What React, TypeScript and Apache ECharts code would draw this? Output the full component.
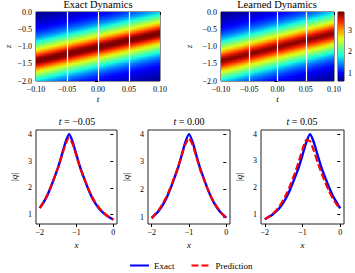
import React, { useEffect, useRef } from "react";
import * as echarts from "echarts";

// ---------------- data ----------------
const snapshotTimes = [-0.05, 0.0, 0.05];
const xGrid = [-2, -1.9, -1.8, -1.7, -1.6, -1.5, -1.4, -1.3, -1.2, -1.1, -1.0, -0.9, -0.8, -0.7, -0.6, -0.5, -0.4, -0.3, -0.2, -0.1, 0];

const exactM005 = [1.25, 1.45, 1.7, 2.02, 2.38, 2.76, 3.22, 3.7, 4.0, 3.7, 3.22, 2.76, 2.38, 2.02, 1.7, 1.45, 1.25, 1.1, 0.98, 0.89, 0.81];
const predM005 = [1.24, 1.45, 1.71, 2.03, 2.39, 2.76, 3.19, 3.62, 3.87, 3.62, 3.17, 2.74, 2.38, 2.03, 1.72, 1.48, 1.28, 1.12, 1.0, 0.9, 0.82];
const exact000 = [0.98, 1.1, 1.25, 1.45, 1.7, 2.02, 2.38, 2.76, 3.22, 3.7, 4.0, 3.7, 3.22, 2.76, 2.38, 2.02, 1.7, 1.45, 1.25, 1.1, 0.98];
const pred000 = [0.95, 1.12, 1.28, 1.5, 1.75, 2.06, 2.42, 2.79, 3.22, 3.62, 3.85, 3.6, 3.16, 2.72, 2.36, 2.02, 1.72, 1.47, 1.27, 1.1, 0.96];
const exactP005 = [0.81, 0.89, 0.98, 1.1, 1.25, 1.45, 1.7, 2.02, 2.38, 2.76, 3.22, 3.7, 4.0, 3.7, 3.22, 2.76, 2.38, 2.02, 1.7, 1.45, 1.22];
const predP005 = [0.8, 0.9, 1.0, 1.14, 1.32, 1.55, 1.83, 2.17, 2.55, 2.97, 3.42, 3.78, 3.74, 3.38, 2.95, 2.56, 2.2, 1.88, 1.6, 1.38, 1.2];

// heat map: travelling profile (|q| vs distance from the crest) and crest track
const heatT = [-0.1, -0.05, 0, 0.05, 0.1];
const heatPeakZ = [-1.4, -1.2, -1.0, -0.8, -0.6];
const profileD = [0, 0.1, 0.2, 0.3, 0.4, 0.5, 0.6, 0.7, 0.8, 0.9, 1.0, 1.1, 1.2, 1.3, 1.4];
const profileExact = [4.0, 3.7, 3.22, 2.76, 2.38, 2.02, 1.7, 1.45, 1.25, 1.1, 0.98, 0.89, 0.81, 0.74, 0.68];
const profileLearned = [3.86, 3.62, 3.18, 2.74, 2.38, 2.03, 1.72, 1.47, 1.27, 1.12, 1.0, 0.9, 0.82, 0.75, 0.69];

const colorMin = 0.64;
const colorMax = 3.86;
const jet = ["#000080", "#0000FF", "#0080FF", "#15FFE2", "#7BFF7B", "#E2FF15", "#FF9700", "#FF2100", "#800000"];

// ---------------- helpers ----------------
const MINUS = "\u2212";
const fmt = (v: number, d: number) => {
  const r = Math.abs(v) < 1e-9 ? 0 : v;
  return (r < 0 ? MINUS : "") + Math.abs(r).toFixed(d);
};
const interp = (xs: number[], ys: number[], x: number) => {
  if (x <= xs[0]) return ys[0];
  if (x >= xs[xs.length - 1]) return ys[ys.length - 1];
  for (let i = 1; i < xs.length; i++) {
    if (x <= xs[i]) {
      const f = (x - xs[i - 1]) / (xs[i] - xs[i - 1]);
      return ys[i - 1] + f * (ys[i] - ys[i - 1]);
    }
  }
  return ys[ys.length - 1];
};

const NT = 62;
const NZ = 48;
const dT = 0.2 / NT;
const dZ = 2 / NZ;
function buildHeat(profile: number[]) {
  const out: number[][] = [];
  for (let i = 0; i < NT; i++) {
    const t = -0.1 + (i + 0.5) * dT;
    const c = interp(heatT, heatPeakZ, t);
    for (let j = 0; j < NZ; j++) {
      const z = -2 + (j + 0.5) * dZ;
      out.push([t, z, interp(profileD, profile, Math.abs(z - c))]);
    }
  }
  return out;
}
const NC = 80;
const dC = (colorMax - colorMin) / NC;
const colorbarData: number[][] = [];
for (let i = 0; i < NC; i++) {
  const v = colorMin + (i + 0.5) * dC;
  colorbarData.push([0.5, v, v]);
}

const FONT = "Liberation Serif";
const black = "#000";
const frame = "#222";

const heatRender = (params: any, api: any) => {
  const t = api.value(0);
  const z = api.value(1);
  const p = api.coord([t - dT / 2, z + dZ / 2]);
  const q = api.coord([t + dT / 2, z - dZ / 2]);
  return {
    type: "rect",
    shape: { x: p[0], y: p[1], width: q[0] - p[0] + 0.7, height: q[1] - p[1] + 0.7 },
    style: { fill: api.visual("color") },
  };
};
const cbRender = (params: any, api: any) => {
  const v = api.value(1);
  const p = api.coord([0, v + dC / 2]);
  const q = api.coord([1, v - dC / 2]);
  return {
    type: "rect",
    shape: { x: p[0], y: p[1], width: q[0] - p[0], height: q[1] - p[1] + 0.7 },
    style: { fill: api.visual("color") },
  };
};

const tickLabel = { color: black, fontFamily: FONT, fontSize: 8 };
const italicName = { color: black, fontFamily: FONT, fontSize: 9, fontStyle: "italic" as const };

function heatXAxis(gridIndex: number) {
  return {
    type: "value", gridIndex, min: -0.1, max: 0.1, interval: 0.05,
    name: "t", nameLocation: "middle", nameGap: 13, nameTextStyle: italicName,
    axisLine: { show: false }, splitLine: { show: false },
    axisTick: { show: true, inside: false, length: 3, lineStyle: { color: black } },
    axisLabel: { ...tickLabel, margin: 4, formatter: (v: number) => fmt(v, 2) },
  };
}
function heatYAxis(gridIndex: number, gap: number) {
  return {
    type: "value", gridIndex, min: -2, max: 0, interval: 0.5,
    name: "z", nameLocation: "middle", nameGap: gap, nameRotate: 90, nameTextStyle: italicName,
    axisLine: { show: false }, splitLine: { show: false },
    axisTick: { show: true, inside: false, length: 3, lineStyle: { color: black } },
    axisLabel: { ...tickLabel, margin: 4, formatter: (v: number) => fmt(v, 1) },
  };
}
function lineXAxis(gridIndex: number) {
  return {
    type: "value", gridIndex, min: -2.1, max: 0.1,
    name: "x", nameLocation: "middle", nameGap: 16, nameTextStyle: italicName,
    axisLine: { show: false }, splitLine: { show: false },
    axisTick: { show: true, inside: false, length: 3, customValues: [-2, -1, 0], lineStyle: { color: black } },
    axisLabel: { ...tickLabel, margin: 4, customValues: [-2, -1, 0], formatter: (v: number) => fmt(v, 0) },
  };
}
function lineYAxis(gridIndex: number, min: number, max: number) {
  return {
    type: "value", gridIndex, min, max,
    name: "|{i|q}|", nameLocation: "middle", nameGap: 18, nameRotate: 90,
    nameTextStyle: { color: black, fontFamily: FONT, fontSize: 9, rich: { i: { fontStyle: "italic", fontFamily: FONT, fontSize: 9, color: black } } },
    axisLine: { show: false }, splitLine: { show: false },
    axisTick: { show: true, inside: false, length: 3, customValues: [1, 2, 3, 4], lineStyle: { color: black } },
    axisLabel: { ...tickLabel, margin: 4, customValues: [1, 2, 3, 4], formatter: (v: number) => String(Math.round(v)) },
  };
}
const pairs = (ys: number[]) => xGrid.map((x, i) => [x, ys[i]]);

const subTitle = (t: number, center: number) => ({
  text: "{i|t} = " + fmt(t, 2),
  left: center, top: 116, textAlign: "center", padding: 0,
  textStyle: { color: black, fontFamily: FONT, fontSize: 10, fontWeight: "normal", rich: { i: { fontStyle: "italic", fontFamily: FONT, fontSize: 10, color: black } } },
});

export default function App() {
  const ref = useRef<HTMLDivElement>(null);
  useEffect(() => {
    if (!ref.current) return;
    const chart = echarts.init(ref.current, null, { renderer: "svg" });
    const gridBase = { show: true, borderColor: frame, borderWidth: 1, backgroundColor: "transparent" };
    const lineSeries = (name: string, data: number[], idx: number) => ({
      name, type: "line", xAxisIndex: idx, yAxisIndex: idx, data: pairs(data),
      symbol: "none", showSymbol: false, smooth: 0.2,
      lineStyle: name === "Exact" ? { color: "#0000FF", width: 2.4, type: "solid" } : { color: "#FF0000", width: 2.2, type: [7, 3] },
      itemStyle: { color: name === "Exact" ? "#0000FF" : "#FF0000" },
      z: name === "Exact" ? 2 : 3,
    });
    chart.setOption({
      animation: false,
      backgroundColor: "#fff",
      title: [
        { text: "Exact Dynamics", left: 98, top: -1, padding: 0, textAlign: "center", textStyle: { color: black, fontFamily: FONT, fontSize: 10.5, fontWeight: "normal" } },
        { text: "Learned Dynamics", left: 277, top: -1, padding: 0, textAlign: "center", textStyle: { color: black, fontFamily: FONT, fontSize: 10.5, fontWeight: "normal" } },
        subTitle(snapshotTimes[0], 77),
        subTitle(snapshotTimes[1], 189),
        subTitle(snapshotTimes[2], 302),
      ],
      grid: [
        { ...gridBase, left: 36, top: 12, width: 124, height: 69 },
        { ...gridBase, left: 221, top: 12, width: 113, height: 69 },
        { ...gridBase, left: 338, top: 12, width: 6.5, height: 69 },
        { ...gridBase, left: 36, top: 130, width: 81, height: 94 },
        { ...gridBase, left: 148, top: 130, width: 82, height: 94 },
        { ...gridBase, left: 261, top: 130, width: 83, height: 94 },
      ],
      xAxis: [
        heatXAxis(0),
        heatXAxis(1),
        { type: "value", gridIndex: 2, min: 0, max: 1, show: false },
        lineXAxis(3),
        lineXAxis(4),
        lineXAxis(5),
      ],
      yAxis: [
        heatYAxis(0, 24),
        heatYAxis(1, 28),
        {
          type: "value", gridIndex: 2, min: colorMin, max: colorMax, position: "right",
          axisLine: { show: false }, splitLine: { show: false },
          axisTick: { show: true, inside: false, length: 3, customValues: [1, 2, 3], lineStyle: { color: black } },
          axisLabel: { ...tickLabel, margin: 4, customValues: [1, 2, 3], formatter: (v: number) => String(Math.round(v)) },
        },
        lineYAxis(3, 0.65, 4.16),
        lineYAxis(4, 0.75, 4.15),
        lineYAxis(5, 0.63, 4.16),
      ],
      visualMap: {
        type: "continuous", show: false, min: colorMin, max: colorMax, dimension: 2,
        seriesIndex: [0, 1, 2], inRange: { color: jet },
      },
      legend: {
        data: ["Exact", "Prediction"], left: 129, top: 261, padding: 0, itemWidth: 19, itemHeight: 8, itemGap: 16,
        itemStyle: { opacity: 0 },
        textStyle: { color: black, fontFamily: FONT, fontSize: 9 },
      },
      series: [
        {
          type: "custom", xAxisIndex: 0, yAxisIndex: 0, data: buildHeat(profileExact), renderItem: heatRender, clip: true, silent: true,
          markLine: { silent: true, symbol: "none", label: { show: false }, lineStyle: { color: "#fff", width: 1.2, type: "solid" }, data: snapshotTimes.map((t) => ({ xAxis: t })) },
        },
        {
          type: "custom", xAxisIndex: 1, yAxisIndex: 1, data: buildHeat(profileLearned), renderItem: heatRender, clip: true, silent: true,
          markLine: { silent: true, symbol: "none", label: { show: false }, lineStyle: { color: "#fff", width: 1.2, type: "solid" }, data: snapshotTimes.map((t) => ({ xAxis: t })) },
        },
        { type: "custom", xAxisIndex: 2, yAxisIndex: 2, data: colorbarData, renderItem: cbRender, clip: true, silent: true },
        lineSeries("Exact", exactM005, 3),
        lineSeries("Prediction", predM005, 3),
        lineSeries("Exact", exact000, 4),
        lineSeries("Prediction", pred000, 4),
        lineSeries("Exact", exactP005, 5),
        lineSeries("Prediction", predP005, 5),
      ],
    });
    return () => chart.dispose();
  }, []);
  return <div ref={ref} style={{ position: "absolute", left: 0, top: 0, width: 355, height: 273 }} />;
}
